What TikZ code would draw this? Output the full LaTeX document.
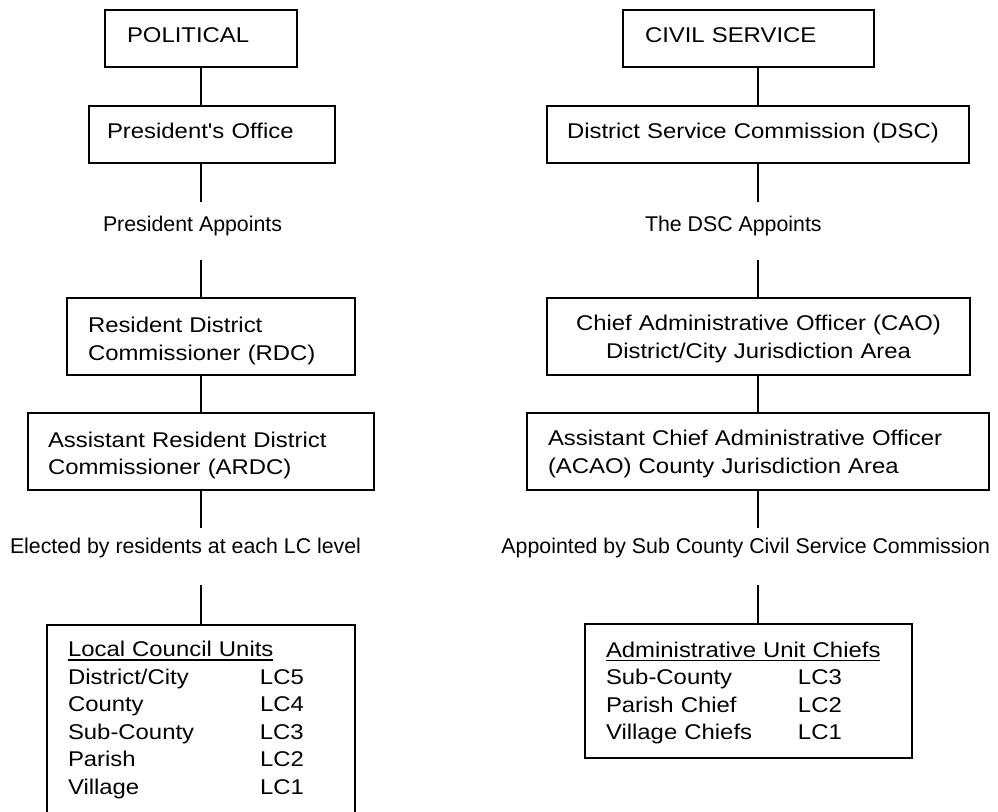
\documentclass[tikz,border=0pt]{standalone}
\usepackage{fontspec}
\setmainfont{Liberation Sans}
\newfontfamily\boxfont[FakeStretch=1.12]{Liberation Sans}
\newcommand\myul[1]{\setbox0\hbox{#1}\rlap{\rule[-2.9pt]{\wd0}{1.2pt}}\box0}
\newcommand\rowx[2]{\makebox[144pt][l]{#1}#2}
\tikzset{
  bx/.style={draw, line width=1.2pt, anchor=north west, inner ysep=0pt, outer sep=0pt,
    align=left, font=\boxfont\fontsize{16}{20.6}\selectfont},
  lab/.style={inner sep=0pt, outer sep=0pt, font=\fontsize{16}{19}\selectfont},
  conn/.style={line width=1.1pt}
}
\begin{document}
\begin{tikzpicture}[x=0.75pt, y=-0.75pt]
\path[use as bounding box] (0,0) rectangle (998,812);
\clip (0,0) rectangle (998,812);
\fill[white] (0,0) rectangle (998,812);

% ---------- left column ----------
\node[bx, minimum width=144pt, text width=111pt, inner xsep=16.5pt,
      text height=24.75pt, text depth=18pt] (pol) at (105,10) {POLITICAL};
\node[bx, minimum width=184.5pt, text width=157.5pt, inner xsep=13.5pt,
      text height=24.75pt, text depth=18pt] (po) at (89,106) {President's Office};
\node[lab, anchor=base west] (pa) at (103,231.7) {President Appoints};
\node[bx, minimum width=216pt, text width=184.5pt, inner xsep=15.75pt,
      text height=26pt, text depth=31.75pt] (rdc) at (67,298)
      {Resident District\\Commissioner (RDC)};
\node[bx, minimum width=259.5pt, text width=229.5pt, inner xsep=15pt,
      text height=25.7pt, text depth=32.05pt] (ardc) at (28,413)
      {Assistant Resident District\\Commissioner (ARDC)};
\node[lab, anchor=base west] (el) at (10,553) {Elected by residents at each LC level};
\node[bx, minimum width=231pt, text width=199.5pt, inner xsep=15.75pt,
      text height=23.8pt, text depth=150pt] (lcu) at (47,625)
      {\myul{Local Council Units}\\
       \rowx{District/City}{LC5}\\
       \rowx{County}{LC4}\\
       \rowx{Sub-County}{LC3}\\
       \rowx{Parish}{LC2}\\
       \rowx{Village}{LC1}};

\coordinate (l1) at (201,202);
\coordinate (l2) at (201,260);
\coordinate (l3) at (201,528);
\coordinate (l4) at (201,585);
\draw[conn] (pol.south) -- (pol.south |- po.north);
\draw[conn] (l1 |- po.south) -- (l1);
\draw[conn] (l2) -- (l2 |- rdc.north);
\draw[conn] (l2 |- rdc.south) -- (l2 |- ardc.north);
\draw[conn] (l3 |- ardc.south) -- (l3);
\draw[conn] (l4) -- (l4 |- lcu.north);

% ---------- right column ----------
\node[bx, minimum width=188.25pt, text width=155.25pt, inner xsep=16.5pt,
      text height=24.75pt, text depth=18pt] (civ) at (623,10) {CIVIL SERVICE};
\node[bx, minimum width=316.5pt, text width=286.5pt, inner xsep=15pt,
      text height=24.75pt, text depth=18pt] (dsc) at (547,106)
      {District Service Commission (DSC)};
\node[lab, anchor=base west] (da) at (645,231.7) {The DSC Appoints};
\node[bx, align=center, minimum width=317.25pt, text width=302.25pt, inner xsep=7.5pt,
      text height=24.5pt, text depth=33.25pt] (cao) at (547,298)
      {Chief Administrative Officer (CAO)\\District/City Jurisdiction Area};
\node[bx, minimum width=346.5pt, text width=315pt, inner xsep=15.75pt,
      text height=24.5pt, text depth=33.25pt] (acao) at (527,413)
      {Assistant Chief Administrative Officer\\(ACAO) County Jurisdiction Area};
\node[lab, anchor=base east] (ap) at (990,553) {Appointed by Sub County Civil Service Commission};
\node[bx, minimum width=245.25pt, text width=213.75pt, inner xsep=15.75pt,
      text height=25pt, text depth=75.5pt] (auc) at (585,624)
      {\myul{Administrative Unit Chiefs}\\
       \rowx{Sub-County}{LC3}\\
       \rowx{Parish Chief}{LC2}\\
       \rowx{Village Chiefs}{LC1}};

\coordinate (r1) at (758,202);
\coordinate (r2) at (758,260);
\coordinate (r3) at (758,528);
\coordinate (r4) at (758,585);
\draw[conn] (r1 |- civ.south) -- (r1 |- dsc.north);
\draw[conn] (r1 |- dsc.south) -- (r1);
\draw[conn] (r2) -- (r2 |- cao.north);
\draw[conn] (r2 |- cao.south) -- (r2 |- acao.north);
\draw[conn] (r3 |- acao.south) -- (r3);
\draw[conn] (r4) -- (r4 |- auc.north);
\end{tikzpicture}
\end{document}
